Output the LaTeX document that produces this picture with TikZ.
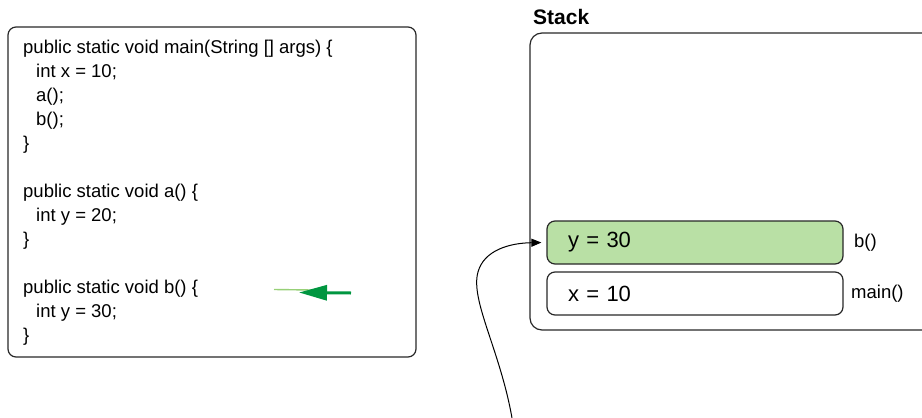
\documentclass[tikz,border=0pt]{standalone}
\usepackage{fontspec}
\setmainfont{Liberation Sans}
\usepackage{xcolor}
\usepackage{tikz}
\usetikzlibrary{arrows.meta}

\definecolor{framegreen}{RGB}{185,224,165}
\definecolor{ptrgreen}{RGB}{0,150,64}
\definecolor{ptrlight}{RGB}{151,208,119}
\definecolor{edgegray}{RGB}{40,40,40}

\tikzset{
  codeline/.style={anchor=base west,inner sep=0pt,
    font=\fontsize{18.5}{24}\selectfont},
  framebox/.style={draw=edgegray,rounded corners=8pt,line width=1.2pt,
    minimum width=296pt,minimum height=43pt,text width=254pt,
    inner xsep=21pt,align=left,font=\fontsize{22}{26}\selectfont},
  framelabel/.style={anchor=west,inner sep=0pt,
    font=\fontsize{18.5}{24}\selectfont}
}

\begin{document}
\begin{tikzpicture}[x=1pt,y=-1pt]
      \useasboundingbox (0,0) rectangle (922,418);
      % code panel
      \node[draw=edgegray,rounded corners=8pt,line width=1.2pt,
        minimum width=408pt,minimum height=330pt] (codebox) at (212,192) {};
      \node[codeline] (mainhead) at (23,53) {public static void main(String [] args) \{};
      \node[codeline] (mainx) at (36,77) {int x = 10;};
      \node[codeline] (maina) at (36,101) {a();};
      \node[codeline] (mainb) at (36,125) {b();};
      \node[codeline] (mainend) at (23,149) {\}};
      \node[codeline] (ahead) at (23,197) {public static void a() \{};
      \node[codeline] (ay) at (36,221) {int y = 20;};
      \node[codeline] (aend) at (23,245) {\}};
      \node[codeline] (bhead) at (23,293) {public static void b() \{};
      \node[codeline] (by) at (36,317) {int y = 30;};
      \node[codeline] (bend) at (23,341) {\}};
      % current line marker
      \coordinate (ghoststart) at (274,289.5);
      \coordinate (ghostend) at (312,290);
      \coordinate (ptrtail) at (351,293);
      \coordinate (ptrtip) at (299,292.5);
      \draw[ptrlight,line width=1.4pt] (ghoststart) -- (ghostend);
      \draw[ptrgreen,line width=3pt,-{Triangle[length=28pt,width=15pt]}]
        (ptrtail) -- (ptrtip);
      % stack
      \node[anchor=base west,inner sep=0pt,
        font=\bfseries\fontsize{21}{25}\selectfont] (stacktitle) at (533,24.5) {Stack};
      \node[draw=edgegray,rounded corners=12pt,line width=1.2pt,
        minimum width=420pt,minimum height=297pt] (stack) at (740,181.5) {};
      \node[framebox,fill=framegreen] (yframe) at (695,242.5) {y = 30};
      \node[framebox,fill=white] (xframe) at (695,293.5) {x = 10};
      \node[framelabel] (blabel) at (854,243) {b()};
      \node[framelabel] (mainlabel) at (851,294) {main()};
      % pointer into the stack
      \coordinate (curvefoot) at (512,418);
      \draw[line width=1pt,-{Triangle[length=10pt,width=8pt]},shorten >=5pt]
        (curvefoot)
        .. controls (500,350) and (470,300) ..
        (478,272)
        .. controls (484,250) and (510,243) ..
        (yframe.west);
    \end{tikzpicture}
\end{document}
